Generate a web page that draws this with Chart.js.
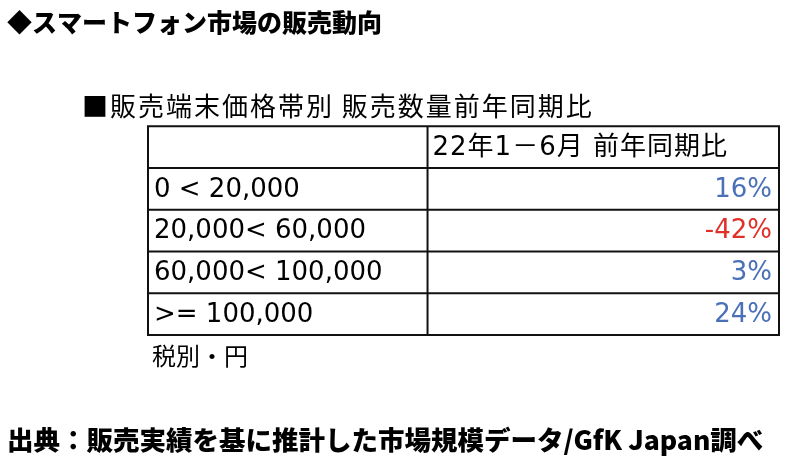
<!DOCTYPE html>
<html>
<head>
<meta charset="utf-8">
<script src="https://cdn.jsdelivr.net/npm/chart.js@4/dist/chart.umd.min.js"></script>
<style>
  html, body { margin: 0; padding: 0; background: #fff; }
  #wrap { width: 800px; height: 467px; }
</style>
</head>
<body>
<div id="wrap"><canvas id="tableChart" width="800" height="467"></canvas></div>
<script>
// price bands (tax excluded, yen) and YoY change for Jan-Jun 2022
const priceBands = ['0 < 20,000', '20,000< 60,000', '60,000< 100,000', '>= 100,000'];
const yoyChange = [16, -42, 3, 24];
const columnHeader = '22年1－6月 前年同期比';

const titleText = '◆スマートフォン市場の販売動向';
const subTitleText = '■販売端末価格帯別 販売数量前年同期比';
const unitNote = '税別・円';
const sourceText = '出典：販売実績を基に推計した市場規模データ/GfK Japan調べ';

const FONT = '"DejaVu Sans", "Noto Sans CJK JP", sans-serif';
const JFONT = '"Noto Sans CJK JP", "DejaVu Sans", sans-serif';

// draws the table cells from the y scale (one category per row)
const tablePlugin = {
    id: 'tablePlugin',
    afterDraw(chart) {
        const ctx = chart.ctx;
        const area = chart.chartArea;
        const yScale = chart.scales.y;
        const rowH = Math.abs(yScale.getPixelForValue(1) - yScale.getPixelForValue(0));
        const top = area.top - rowH;   // header row sits above the plot area
        const splitX = area.left + (area.right - area.left) * 0.443;

        ctx.save();
        ctx.fillStyle = '#000';
        ctx.textBaseline = 'alphabetic';

        // headings
        ctx.font = '900 25px ' + JFONT;
        ctx.fillText(titleText, 7, 32);
        ctx.font = '26px ' + JFONT;
        ctx.letterSpacing = '2px';
        ctx.fillText(subTitleText, 82, 116);
        ctx.letterSpacing = '0px';

        // grid
        ctx.strokeStyle = '#111';
        ctx.lineWidth = 2;
        ctx.strokeRect(area.left, top, area.right - area.left, area.bottom - top);
        ctx.beginPath();
        ctx.moveTo(area.left, area.top);
        ctx.lineTo(area.right, area.top);
        priceBands.forEach((b, i) => {
            if (i === 0) return;
            const y = yScale.getPixelForValue(i) - rowH / 2;
            ctx.moveTo(area.left, y);
            ctx.lineTo(area.right, y);
        });
        ctx.moveTo(splitX, top);
        ctx.lineTo(splitX, area.bottom);
        ctx.stroke();

        // header cell
        ctx.font = '26px ' + FONT;
        ctx.letterSpacing = '1px';
        ctx.textBaseline = 'middle';
        ctx.textAlign = 'left';
        ctx.fillText(columnHeader, splitX + 5, top + rowH / 2 + 1);
        ctx.letterSpacing = '0px';

        // rows
        priceBands.forEach((band, i) => {
            const y = yScale.getPixelForValue(i) + 1;
            ctx.font = '26px ' + FONT;
            ctx.fillStyle = '#000';
            ctx.textAlign = 'left';
            ctx.fillText(band, area.left + 6, y);
            const v = yoyChange[i];
            ctx.fillStyle = v < 0 ? '#E0302A' : '#4A70B8';
            ctx.textAlign = 'right';
            ctx.fillText(v + '%', area.right - 7, y);
        });

        // notes
        ctx.fillStyle = '#000';
        ctx.textAlign = 'left';
        ctx.textBaseline = 'alphabetic';
        ctx.font = '24px ' + JFONT;
        ctx.fillText(unitNote, area.left + 4, area.bottom + 30);
        ctx.font = '900 26.5px ' + JFONT;
        ctx.fillText(sourceText, 7, 450);
        ctx.restore();
    }
};

const ctx = document.getElementById('tableChart').getContext('2d');
new Chart(ctx, {
    type: 'bar',
    data: {
        labels: priceBands,
        datasets: [{
            label: columnHeader,
            data: yoyChange,
            backgroundColor: 'rgba(0,0,0,0)',
            borderWidth: 0
        }]
    },
    options: {
        indexAxis: 'y',
        responsive: false,
        animation: false,
        layout: { padding: { left: 148, right: 21, top: 168, bottom: 132 } },
        plugins: {
            legend: { display: false },
            tooltip: { enabled: false },
            title: { display: false }
        },
        scales: {
            x: { display: false, min: -50, max: 50 },
            y: { display: false, offset: true }
        }
    },
    plugins: [tablePlugin]
});
</script>
</body>
</html>
